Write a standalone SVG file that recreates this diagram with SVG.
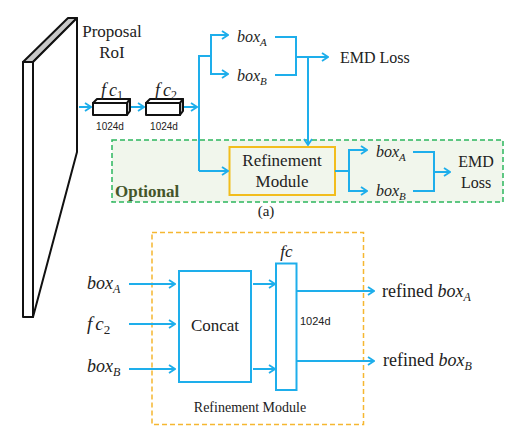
<svg xmlns="http://www.w3.org/2000/svg" width="530" height="431" viewBox="0 0 530 431">
<defs>
<marker id="ah" markerUnits="userSpaceOnUse" markerWidth="10" markerHeight="10" viewBox="0 0 10 10" refX="9" refY="5" orient="auto">
<path d="M3,1 L9,5 L3,9" fill="none" stroke="#1EAEEB" stroke-width="1.8"/>
</marker>
</defs>
<style>
.ln{fill:none;stroke:#1EAEEB;stroke-width:2}
.ar{fill:none;stroke:#1EAEEB;stroke-width:2;marker-end:url(#ah)}
.serif{font-family:"Liberation Serif","Times New Roman",serif;fill:#222}
.it{font-family:"Liberation Serif","Times New Roman",serif;font-style:italic;fill:#222}
.sans{font-family:"Liberation Sans",Arial,sans-serif;fill:#222}
.blk{stroke:#111;stroke-width:2;stroke-linejoin:round}
</style>
<rect width="530" height="431" fill="#fff"/>

<g id="optional-region">
<rect x="112" y="140" width="391" height="62" fill="#F1F6EC" stroke="#2DB65E" stroke-width="1.5" stroke-dasharray="5,3"/>
<text x="115" y="197" class="serif" font-size="17" font-weight="bold" style="fill:#44552A">Optional</text>
</g>

<g id="proposal-roi">
<polygon points="23,62 68,18 77,18 33,62" fill="#C8C8C8" class="blk"/>
<polygon points="33,62 77,18 77,152 33,317" fill="#fff" class="blk"/>
<rect x="23" y="62" width="10" height="255" fill="#fff" class="blk"/>
<text x="112" y="37" class="serif" font-size="17" text-anchor="middle">Proposal</text>
<text x="112" y="58" class="serif" font-size="17" text-anchor="middle">RoI</text>
</g>

<g id="fc1">
<polygon points="93,103 97,99 130,99 127,103" fill="#fff" class="blk" stroke-width="1.6"/>
<polygon points="127,103 130,99 130,111 127,115" fill="#BDBDBD" class="blk" stroke-width="1.6"/>
<rect x="93" y="103" width="34" height="12" fill="#fff" class="blk" stroke-width="1.6"/>
<text x="101" y="96" class="it" font-size="18">f<tspan dx="3">c</tspan><tspan font-style="normal" font-size="12" dy="3">1</tspan></text>
<text x="110" y="130" class="sans" font-size="10" text-anchor="middle">1024d</text>
</g>

<g id="fc2">
<polygon points="146,103 150,99 183,99 180,103" fill="#fff" class="blk" stroke-width="1.6"/>
<polygon points="180,103 183,99 183,111 180,115" fill="#BDBDBD" class="blk" stroke-width="1.6"/>
<rect x="146" y="103" width="34" height="12" fill="#fff" class="blk" stroke-width="1.6"/>
<text x="155" y="96" class="it" font-size="18">f<tspan dx="3">c</tspan><tspan font-style="normal" font-size="12" dy="3">2</tspan></text>
<text x="164" y="130" class="sans" font-size="10" text-anchor="middle">1024d</text>
</g>

<g id="top-boxes">
<text x="237" y="42" class="it" font-size="16">box<tspan font-size="11" dy="4">A</tspan></text>
<text x="237" y="81" class="it" font-size="16">box<tspan font-size="11" dy="4">B</tspan></text>
<text x="340" y="63" class="serif" font-size="16">EMD Loss</text>
</g>

<g id="refinement-module-a">
<rect x="229.5" y="147" width="105.5" height="48" fill="#F1F6EC" stroke="#F2BD1D" stroke-width="2"/>
<text x="282" y="166" class="serif" font-size="17" text-anchor="middle">Refinement</text>
<text x="282" y="187" class="serif" font-size="17" text-anchor="middle">Module</text>
</g>

<g id="optional-outputs">
<text x="376" y="157" class="it" font-size="16">box<tspan font-size="11" dy="4">A</tspan></text>
<text x="376" y="196" class="it" font-size="16">box<tspan font-size="11" dy="4">B</tspan></text>
<text x="476" y="167" class="serif" font-size="16" text-anchor="middle">EMD</text>
<text x="476" y="188" class="serif" font-size="16" text-anchor="middle">Loss</text>
</g>

<text x="266" y="216" class="serif" font-size="15" text-anchor="middle">(a)</text>

<g id="refinement-module-detail">
<rect x="152" y="232.5" width="211.5" height="192" fill="none" stroke="#F5B731" stroke-width="1.5" stroke-dasharray="5,3"/>
<text x="250" y="412" class="serif" font-size="14" text-anchor="middle">Refinement Module</text>
</g>

<g id="inputs">
<text x="87" y="289" class="it" font-size="18">box<tspan font-size="12" dy="4">A</tspan></text>
<text x="87" y="330" class="it" font-size="19">f<tspan dx="3">c</tspan><tspan font-style="normal" font-size="13" dy="4">2</tspan></text>
<text x="87" y="372" class="it" font-size="18">box<tspan font-size="12" dy="4">B</tspan></text>
</g>

<g id="concat">
<rect x="179" y="271" width="72" height="111" fill="#fff" stroke="#1EAEEB" stroke-width="2"/>
<text x="215" y="331" class="serif" font-size="17" text-anchor="middle">Concat</text>
</g>

<g id="fc">
<rect x="276" y="263.5" width="20.5" height="126.5" fill="#fff" stroke="#1EAEEB" stroke-width="2"/>
<text x="286.5" y="257" class="it" font-size="17" text-anchor="middle">fc</text>
<text x="300" y="325" class="sans" font-size="11">1024d</text>
</g>

<g id="outputs">
<text x="382" y="297" class="serif" font-size="18">refined <tspan class="it" font-style="italic">box</tspan><tspan font-style="italic" font-size="12" dy="4">A</tspan></text>
<text x="383" y="366" class="serif" font-size="18">refined <tspan font-style="italic">box</tspan><tspan font-style="italic" font-size="12" dy="4">B</tspan></text>
</g>

<g id="connectors">
<line class="ar" x1="79" y1="107" x2="91" y2="107"/>
<line class="ar" x1="131" y1="107" x2="144" y2="107"/>
<line class="ar" x1="184" y1="107" x2="197" y2="107"/>
<polyline class="ln" points="211,56 199,56 199,171"/>
<line class="ar" x1="199" y1="171" x2="228" y2="171"/>
<line class="ln" x1="211" y1="35" x2="211" y2="74"/>
<line class="ar" x1="210" y1="35" x2="228" y2="35"/>
<line class="ar" x1="210" y1="74" x2="228" y2="74"/>
<polyline class="ln" points="275,37 296,37 296,75 275,75"/>
<line class="ar" x1="296" y1="57" x2="328" y2="57"/>
<line class="ar" x1="308" y1="57" x2="308" y2="145"/>
<line class="ln" x1="335" y1="171" x2="349" y2="171"/>
<line class="ln" x1="349" y1="150" x2="349" y2="191"/>
<line class="ar" x1="348" y1="150" x2="367" y2="150"/>
<line class="ar" x1="348" y1="191" x2="367" y2="191"/>
<polyline class="ln" points="413,152 434,152 434,191 413,191"/>
<line class="ar" x1="434" y1="172" x2="450" y2="172"/>
<line class="ar" x1="129" y1="284" x2="175" y2="284"/>
<line class="ar" x1="129" y1="324" x2="175" y2="324"/>
<line class="ar" x1="129" y1="369" x2="175" y2="369"/>
<line class="ar" x1="253" y1="284" x2="275" y2="284"/>
<line class="ar" x1="253" y1="369" x2="275" y2="369"/>
<line class="ar" x1="297" y1="291" x2="374" y2="291"/>
<line class="ar" x1="297" y1="361" x2="374" y2="361"/>
</g>
</svg>
